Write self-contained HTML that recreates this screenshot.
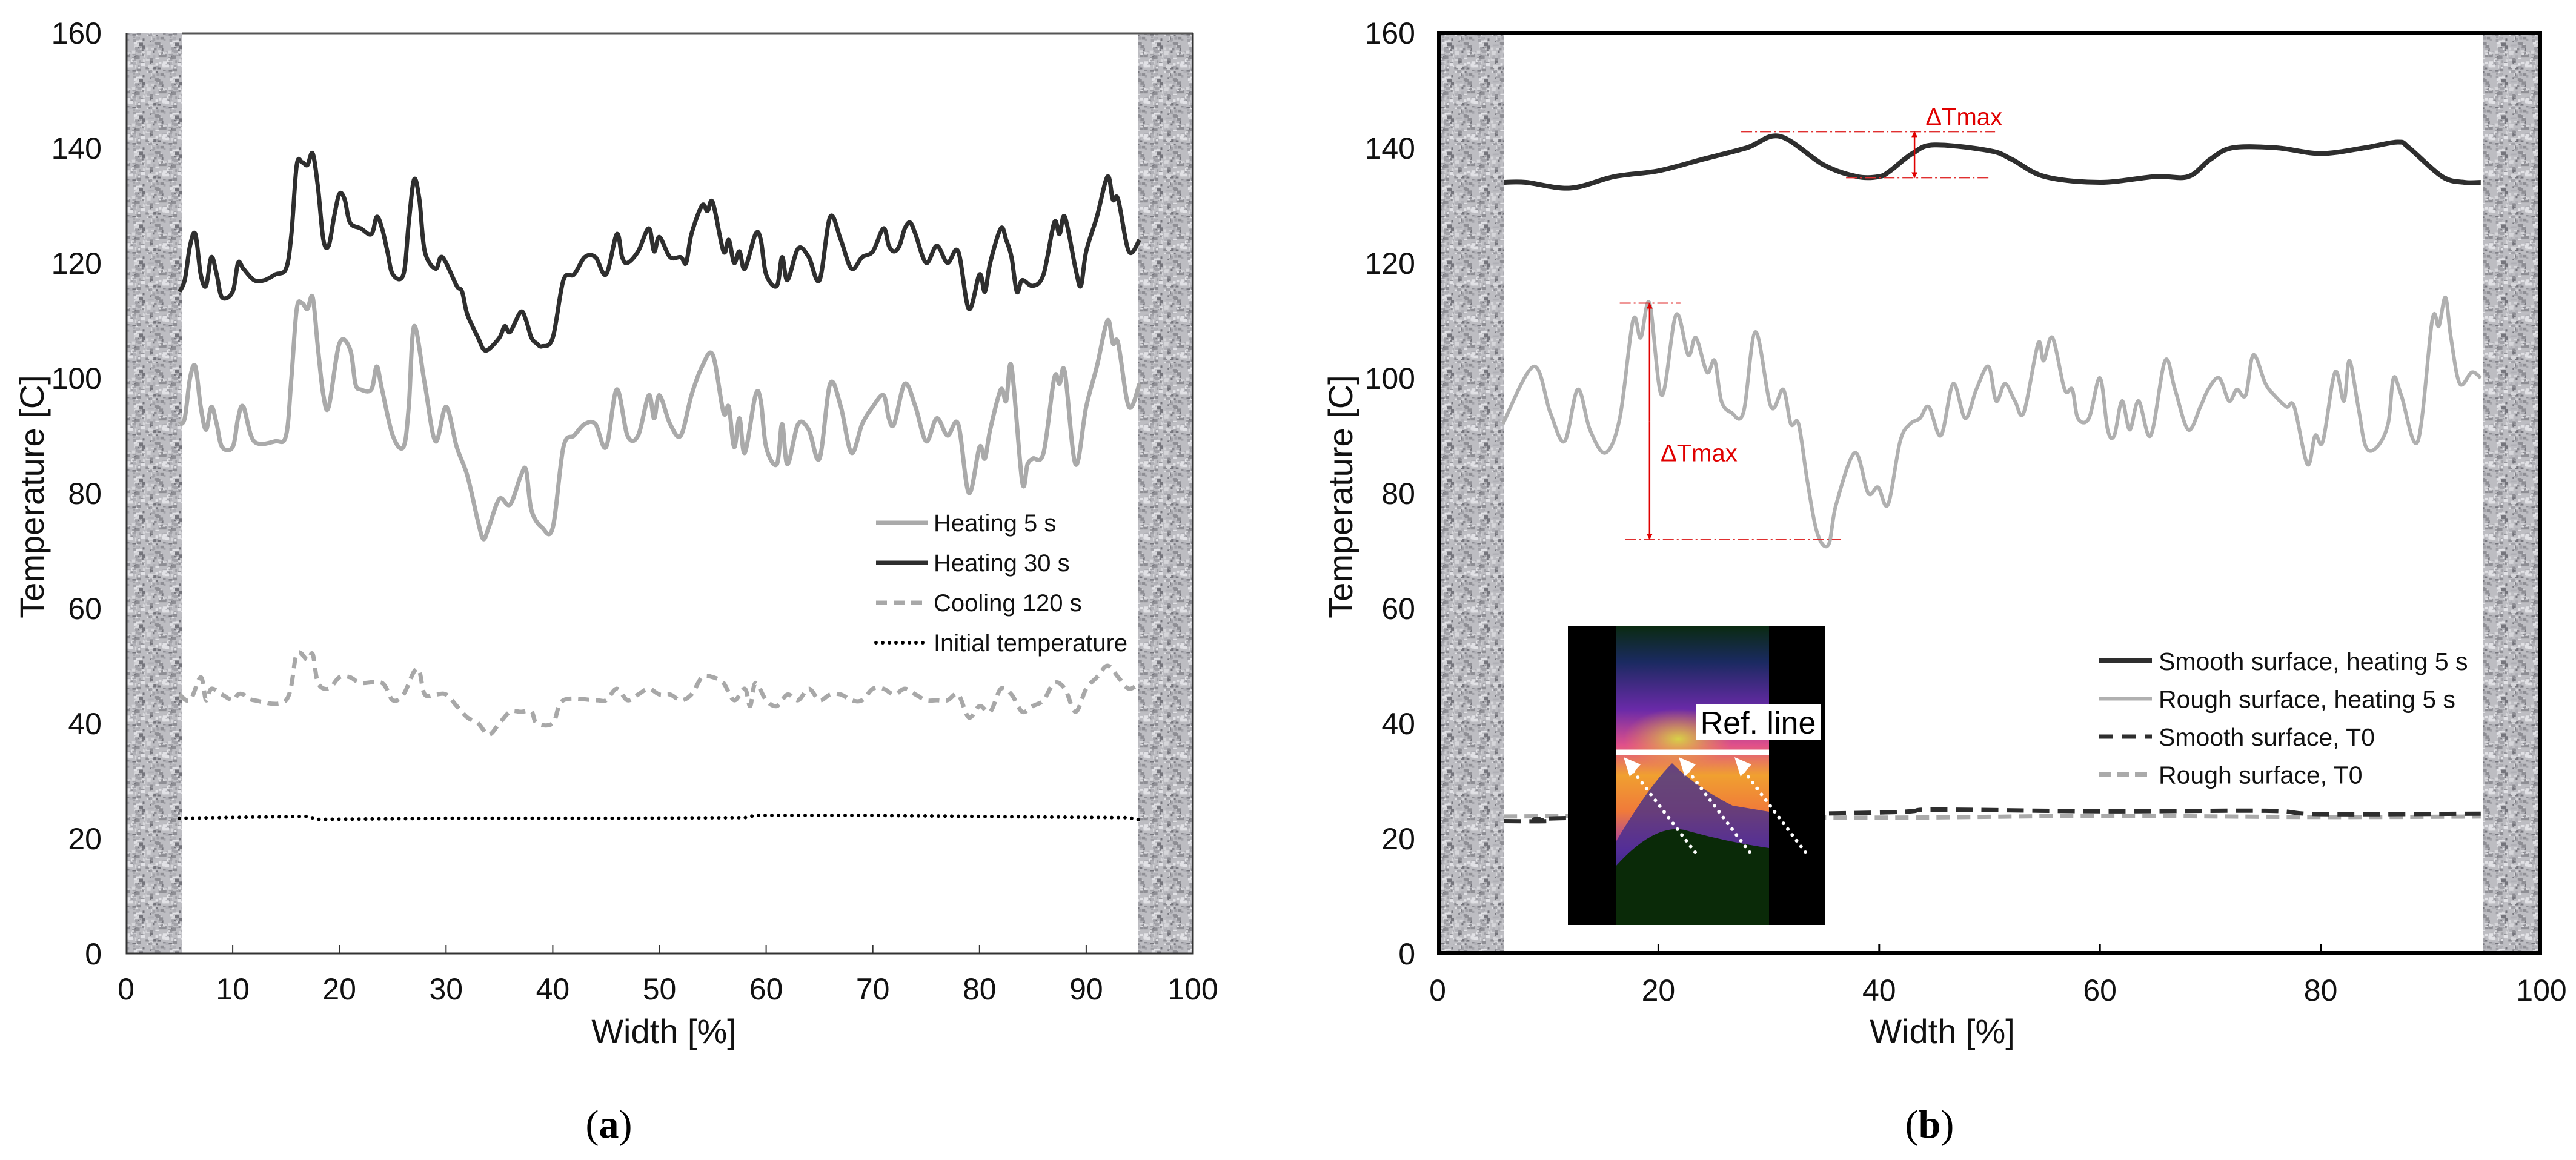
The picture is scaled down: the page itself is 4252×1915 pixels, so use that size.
<!DOCTYPE html>
<html><head><meta charset="utf-8">
<style>
html,body{margin:0;padding:0;background:#fff;}
svg{display:block;font-family:"Liberation Sans",sans-serif;}
</style></head>
<body>
<svg id="fig" width="4252" height="1915" viewBox="0 0 4252 1915" xmlns="http://www.w3.org/2000/svg">
<defs>
<pattern id="granite" patternUnits="userSpaceOnUse" width="60" height="60"><rect width="60" height="60" fill="#bdbdc2"/><g id="granG"></g></pattern>
<linearGradient id="thermV" x1="0" y1="0" x2="0" y2="1">
<stop offset="0" stop-color="#0a2a10"/>
<stop offset="0.12" stop-color="#1a2a60"/>
<stop offset="0.28" stop-color="#6a2aa8"/>
<stop offset="0.4" stop-color="#e0508a"/>
<stop offset="0.5" stop-color="#f0a030"/>
<stop offset="0.62" stop-color="#f07a3a"/>
<stop offset="0.75" stop-color="#a03ab0"/>
<stop offset="0.85" stop-color="#1a2a60"/>
<stop offset="1" stop-color="#0a2a08"/>
</linearGradient>
<radialGradient id="hot" cx="0.5" cy="0.5" r="0.5">
<stop offset="0" stop-color="#d8e040" stop-opacity="0.9"/>
<stop offset="1" stop-color="#f0a030" stop-opacity="0"/>
</radialGradient>
<marker id="arrR" markerWidth="10" markerHeight="10" refX="9" refY="5" orient="auto" markerUnits="userSpaceOnUse" viewBox="0 0 10 10"><path d="M0,0 L10,5 L0,10 z" fill="#e00000"/></marker>
</defs>
<g id="chartA"></g>
<g id="chartB"></g>
</svg>
<script>
// ---------- Chart (a) data ----------
const a_h30_x = [5,5.5,6,6.5,7,7.5,8,8.5,9,10,10.5,11,12,13,14,15,15.5,16,16.5,17,17.5,18,18.5,19,19.5,20,20.5,21,22,23,23.5,24,24.5,25,26,26.5,27,27.5,28,29,29.5,30,31,31.5,32,33,33.5,34,35,35.5,36,37,37.5,38,38.5,39,40,41,42,43,44,45,46,46.5,47,48,49,49.5,50,51,52,52.5,53,54,54.5,55,56,56.5,57,57.5,58,59,59.5,60,61,61.5,62,63,64,65,66,67,68,69,70,71,71.5,72,72.5,73,73.5,74,75,76,77,78,79,80,80.5,81,82,82.5,83,83.5,84,85,86,87,87.5,88,89,89.5,90,91,92,92.5,93,94,95];
const a_h30_y = [115,117,123,125,118,116,121,118,114,115,120,119,117,117,118,119,125,137,137.5,137,139,133,124,123,128,132,131,127,126,125,128,126,122,118,118,127,134.5,131,122,119,121,120,116,115,111,107,105,105,107,109,108,111.5,110,107,106,105.5,107,117,118,121,121,118,125,121,120,122,126,122,124.5,121,121,120,125,130,129,130.5,122,124,120,122,119,125,124,118,116,121,117,122.5,121,117,128,124,119,121,122,126,123,122,123,126,127,125,120,123,120,122,112,118,115,120,126,124,121,115,117,116,118,127,125,128,119,116,122,128,135,131,131,122,124];
const a_h5_x = [5,5.5,6,6.5,7,7.5,8,8.5,9,10,10.5,11,12,14,15,15.5,16,16.5,17,17.5,18,18.5,19,20,21,21.5,22,23,23.5,24,25,26,26.5,27,28,29,30,31,32,33,33.5,34,35,36,37,37.5,38,39,40,41,42,43,44,45,46,47,48,49,49.5,50,51,52,53,54,55,56,56.5,57,57.5,58,59,59.5,60,61,61.5,62,63,64,65,66,67,68,69,70,71,71.5,72,73,74,75,76,77,78,79,80,80.5,81,82,82.5,83,84,84.5,85,86,87,87.5,88,89,90,91,92,92.5,93,94,95];
const a_h5_y = [92,93,100,102,95,91,95,92,88,88,93,95,89,89,90,100,112,113,112,114,105,97,95,106,105,99,98,98,102,98,90,88,95,109,99,89,95,88,83,75,72,74,79,78,83,84,77,74,74,88,90,92,92,88,98,90,90,97,93,97,92,90,97,102,104,94,95,88,93,87,97,96,88,85,92,85,92,91,86,99,95,87,92,95,97,93,92,99,95,89,93,90,92,80,88,86,91,98,96,102,82,85,86,87,100,99,101,85,95,102,110,106,106,95,99];
const a_c120_x = [5,6,7,7.5,8,9,10,10.5,11,12,15,16,17,17.5,18,19,20,21,22,24,25,26,27,27.5,28,29,30,31,32,33,34,35,36,37,38,38.5,40,41,44,45,46,47,48,49,50,51,52,53,54,55,56,57,58,58.5,59,60,61,62,63,64,65,66,67,68,69,70,71,72,73,74,75,76,77,78,79,80,81,82,83,84,85,86,87,88,89,90,91,92,93,94,95];
const a_c120_y = [45,44,48,44,46,45,44,45,45,44,44,52,51,52,47,46,48,48,47,47,44,45,49,49,45,45,45,43,41,40,38,40,42,42,42,40,40,44,44,44,46,44,45,46,45,45,44,45,48,48,47,44,46,43,47,44,43,45,44,46,44,45,45,44,44,46,46,45,46,45,44,44,44,45,41,43,42,46,45,42,43,44,47,46,42,46,48,50,48,46,47];
const a_init_x = [5,12,17,18,30,45,58,59,70,80,94,95];
const a_init_y = [23.5,23.7,23.8,23.3,23.5,23.5,23.6,24,24,23.8,23.6,23.2];
// ---------- Chart (b) data ----------
const b_smooth_x = [6,8,12,16,20,24,28,31,35,38,40,41,43,45,50,52,55,60,65,68,70,72,76,80,84,87,88,91,93,94.5];
const b_smooth_y = [134,134,133,135,136,138,140,142,137,135,135,136,139,140.5,139.5,138,135,134,135,135,138,140,140,139,140,141,140,135,134,134];
const b_rough_x = [5.9,8.7,10.2,11.5,12.7,13.8,15.2,16.5,17.7,18.4,19.2,20.3,21.6,22.7,23.4,24.4,25.1,25.7,26.6,27.7,28.8,30.2,31.3,32,32.7,33.5,34.4,35.4,36.1,37.8,39,39.9,40.8,41.9,42.8,43.7,44.5,45.6,46.7,47.8,48.8,49.9,50.6,51.4,52.3,53.1,54.4,54.9,55.7,56.8,57.5,58,59,60,60.7,61.3,62,62.7,63.5,64.6,65.9,66.8,68,69.1,69.8,70.8,71.7,72.4,73.2,73.9,75,75.8,76.9,77.6,78.8,79.5,80.2,81.3,82.1,82.6,83.4,84.1,85.1,86.1,86.6,87.3,88.8,90.1,90.7,91.3,91.8,92.6,93.7,94.5];
const b_rough_y = [92,102,94,89,98,91,87,93,110,107,113,97,111,104,107,101,103,96,94,94,108,95,98,92,92,82,73,71,78,87,80,81,78,89,92,93,95,90,99,93,98,102,96,99,96,94,106,103,107,98,98,93,93,100,91,90,96,91,96,90,103,98,91,95,98,100,96,98,97,104,99,97,95,95,85,90,89,101,96,103,95,88,88,92,100,97,89,110,109,114,107,99,101,100];
const b_st0_x = [6,10,11,40,45,60,75,80,94.5];
const b_st0_y = [23,23,23.5,24.5,25,24.7,24.8,24.2,24.3];
const b_rt0_x = [6,20,40,60,80,94.5];
const b_rt0_y = [23.8,23.9,23.6,23.9,23.7,23.8];
const yTicks = [0,20,40,60,80,100,120,140,160];
const a_xTicks = [0,10,20,30,40,50,60,70,80,90,100];
const b_xTicks = [0,20,40,60,80,100];

const NS = "http://www.w3.org/2000/svg";
function mk(parent, tag, attrs, text){
  const e = document.createElementNS(NS, tag);
  for (const k in attrs) e.setAttribute(k, attrs[k]);
  if (text !== undefined) e.textContent = text;
  parent.appendChild(e);
  return e;
}
// granite texture tile
(function(){
  const g = document.getElementById('granG');
  let s = 12345;
  function rnd(){ s = (s*1103515245 + 12345) % 2147483648; return s/2147483648; }
  const shades = ['#8e8e94','#a2a2a8','#d6d6da','#e2e2e6','#75757c','#b0b0b6'];
  for (let i=0;i<140;i++){
    const w = 2+rnd()*5, h = 2+rnd()*4;
    mk(g,'rect',{x:(rnd()*60).toFixed(1),y:(rnd()*60).toFixed(1),width:w.toFixed(1),height:h.toFixed(1),fill:shades[Math.floor(rnd()*shades.length)]});
  }
})();
const Y0 = 1574, Y1 = 54;
function yScale(v){ return Y0 - (v/160)*(Y0-Y1); }
function xScaleA(v){ return 208 + v/100*(1969-208); }
function xScaleB(v){ return 2373 + v/100*(4195-2373); }
function pts(xs, ys, sx){ return xs.map((x,i)=> sx(x).toFixed(1)+","+yScale(ys[i]).toFixed(1)).join(" "); }
function smoothPath(xs, ys, sx){
  const P = xs.map((x,i)=>[sx(x), yScale(ys[i])]);
  let d = "M"+P[0][0].toFixed(1)+","+P[0][1].toFixed(1);
  for (let i=0;i<P.length-1;i++){
    const p0 = P[Math.max(0,i-1)], p1 = P[i], p2 = P[i+1], p3 = P[Math.min(P.length-1,i+2)];
    const c1 = [p1[0]+(p2[0]-p0[0])/6, p1[1]+(p2[1]-p0[1])/6];
    const c2 = [p2[0]-(p3[0]-p1[0])/6, p2[1]-(p3[1]-p1[1])/6];
    d += " C"+c1[0].toFixed(1)+","+c1[1].toFixed(1)+" "+c2[0].toFixed(1)+","+c2[1].toFixed(1)+" "+p2[0].toFixed(1)+","+p2[1].toFixed(1);
  }
  return d;
}

// ================= Chart A =================
const A = document.getElementById('chartA');
let r;
r = mk(A,'rect',{x:208,y:54,width:92,height:1520,fill:'url(#granite)'});


r = mk(A,'rect',{x:1878,y:54,width:91,height:1520,fill:'url(#granite)'});


r = mk(A,'line',{x1:300,y1:55,x2:1969,y2:55,stroke:'#555',"stroke-width":3});


r = mk(A,'polyline',{points:"209,54 209,1574 1969,1574 1969,54",fill:'none',stroke:'#333',"stroke-width":3});


a_xTicks.forEach(t=>{
  const x = xScaleA(t);
  if (t>0 && t<100){
    const tk = mk(A,'line',{x1:x,y1:1574,x2:x,y2:1560,stroke:'#333',"stroke-width":2});
    
    
  }
  const tl = mk(A,'text',{x:x,y:1650,"font-size":50,"text-anchor":"middle",fill:'#111'},String(t));
  
  
});
yTicks.forEach(t=>{
  const tl = mk(A,'text',{x:168,y:yScale(t)+18,"font-size":50,"text-anchor":"end",fill:'#111'},String(t));
  
  
});
r = mk(A,'text',{x:1096,y:1722,"font-size":56,"text-anchor":"middle",fill:'#111'},'Width [%]');


r = mk(A,'text',{x:0,y:0,"font-size":56,"text-anchor":"middle",fill:'#111',transform:'translate(72,820) rotate(-90)'},'Temperature [C]');


r = mk(A,'text',{x:1005,y:1878,"font-size":66,"text-anchor":"middle",fill:'#000',"font-family":"Liberation Serif, serif"});


r.innerHTML = '(<tspan font-weight="bold">a</tspan>)';

r = mk(A,'polyline',{points:pts(a_init_x,a_init_y,xScaleA),fill:'none',stroke:'#000',"stroke-width":6,"stroke-dasharray":"0 11","stroke-linecap":"round"});


r = mk(A,'path',{d:smoothPath(a_c120_x,a_c120_y,xScaleA),fill:'none',stroke:'#a8a8a8',"stroke-width":7,"stroke-dasharray":"18 11","stroke-linejoin":"round"});


r = mk(A,'path',{d:smoothPath(a_h5_x,a_h5_y,xScaleA),fill:'none',stroke:'#aaaaaa',"stroke-width":7,"stroke-linejoin":"round"});


r = mk(A,'path',{d:smoothPath(a_h30_x,a_h30_y,xScaleA),fill:'none',stroke:'#2e2e2e',"stroke-width":7,"stroke-linejoin":"round"});



const legA = mk(A,'g',{});


const legAItems = [['Heating 5 s','#aaaaaa',null,7],['Heating 30 s','#2e2e2e',null,7],['Cooling 120 s','#a8a8a8','18 11',7],['Initial temperature','#000','0 11',6]];
legAItems.forEach((it,i)=>{
  const y = 863 + i*66;
  const ln = mk(legA,'line',{x1:1446,y1:y,x2:1532,y2:y,stroke:it[1],"stroke-width":it[3],"stroke-linecap":it[2]==='0 11'?'round':'butt'});
  if (it[2]) ln.setAttribute('stroke-dasharray',it[2]);
  
  
  const tx = mk(legA,'text',{x:1541,y:y+14,"font-size":40,fill:'#111'},it[0]);
  
  
});

// ================= Chart B =================
const B = document.getElementById('chartB');
r = mk(B,'rect',{x:2373,y:54,width:109,height:1520,fill:'url(#granite)'});


r = mk(B,'rect',{x:4098,y:54,width:97,height:1520,fill:'url(#granite)'});


r = mk(B,'rect',{x:2375,y:55,width:1818,height:1518,fill:'none',stroke:'#000',"stroke-width":6});


b_xTicks.forEach(t=>{
  const x = xScaleB(t);
  if (t>0 && t<100){
    const tk = mk(B,'line',{x1:x,y1:1574,x2:x,y2:1558,stroke:'#000',"stroke-width":3});
    
    
  }
  const tl = mk(B,'text',{x:x,y:1652,"font-size":50,"text-anchor":"middle",fill:'#111'},String(t));
  
  
});
yTicks.forEach(t=>{
  const tl = mk(B,'text',{x:2336,y:yScale(t)+18,"font-size":50,"text-anchor":"end",fill:'#111'},String(t));
  
  
});
r = mk(B,'text',{x:3206,y:1722,"font-size":56,"text-anchor":"middle",fill:'#111'},'Width [%]');


r = mk(B,'text',{x:0,y:0,"font-size":56,"text-anchor":"middle",fill:'#111',transform:'translate(2232,820) rotate(-90)'},'Temperature [C]');


r = mk(B,'text',{x:3185,y:1878,"font-size":66,"text-anchor":"middle",fill:'#000',"font-family":"Liberation Serif, serif"});


r.innerHTML = '(<tspan font-weight="bold">b</tspan>)';

r = mk(B,'path',{d:smoothPath(b_rt0_x,b_rt0_y,xScaleB),fill:'none',stroke:'#aaaaaa',"stroke-width":7,"stroke-dasharray":"22 12"});


r = mk(B,'path',{d:smoothPath(b_st0_x,b_st0_y,xScaleB),fill:'none',stroke:'#2e2e2e',"stroke-width":7,"stroke-dasharray":"28 14"});


r = mk(B,'path',{d:smoothPath(b_rough_x,b_rough_y,xScaleB),fill:'none',stroke:'#b0b0b0',"stroke-width":6,"stroke-linejoin":"round"});


r = mk(B,'path',{d:smoothPath(b_smooth_x,b_smooth_y,xScaleB),fill:'none',stroke:'#2e2e2e',"stroke-width":8,"stroke-linejoin":"round"});



// annotations
const ann = mk(B,'g',{});


function hline(x1,x2,v){
  const l = mk(ann,'line',{x1:xScaleB(x1),y1:yScale(v),x2:xScaleB(x2),y2:yScale(v),stroke:'#e03030',"stroke-width":2,"stroke-dasharray":"18 5 3 5"});
  
  
}
hline(27.5,50.5,142.8); hline(37,50,134.8); hline(16.5,22,113); hline(17,36.5,72);
function varrow(x,v1,v2){
  const l = mk(ann,'line',{x1:xScaleB(x),y1:yScale((v1+v2)/2),x2:xScaleB(x),y2:yScale(v2),stroke:'#e00000',"stroke-width":2.5,"marker-end":"url(#arrR)"});
  
  
  const l2 = mk(ann,'line',{x1:xScaleB(x),y1:yScale((v1+v2)/2),x2:xScaleB(x),y2:yScale(v1),stroke:'#e00000',"stroke-width":2.5,"marker-end":"url(#arrR)"});
  
  
}
varrow(43.2,142.8,134.8); varrow(19.2,113,72);
r = mk(ann,'text',{x:xScaleB(44.2),y:yScale(145.4)+14,"font-size":40,fill:'#e00000'},'ΔTmax');


r = mk(ann,'text',{x:xScaleB(20.2),y:yScale(87)+14,"font-size":40,fill:'#e00000'},'ΔTmax');



// inset thermal image
const ins = mk(B,'g',{});


mk(ins,'rect',{x:2588,y:1033,width:425,height:494,fill:'#000'});
mk(ins,'rect',{x:2667,y:1033,width:253,height:494,fill:'url(#thermV)'});
mk(ins,'ellipse',{cx:2770,cy:1220,rx:90,ry:50,fill:'url(#hot)'});
mk(ins,'path',{d:"M2667,1460 L2667,1390 Q2720,1300 2760,1260 Q2800,1300 2860,1330 L2920,1340 L2920,1460 Z",fill:'#3a2a90',opacity:0.75});
mk(ins,'path',{d:"M2667,1527 L2667,1430 Q2730,1360 2780,1370 Q2850,1390 2920,1400 L2920,1527 Z",fill:'#0a2a08'});
r = mk(ins,'line',{x1:2667,y1:1242,x2:2920,y2:1242,stroke:'#fff',"stroke-width":9});


r = mk(ins,'rect',{x:2799,y:1162,width:206,height:60,fill:'#fff'});


r = mk(ins,'text',{x:2902,y:1211,"font-size":52,"text-anchor":"middle",fill:'#000'},'Ref. line');


[[2798,2680],[2888,2771],[2980,2863]].forEach(p=>{
  const l = mk(ins,'line',{x1:p[0],y1:1407,x2:p[1]+14,y2:1271,stroke:'#fff',"stroke-width":6,"stroke-dasharray":"0 12","stroke-linecap":"round"});
  
  
  const h = mk(ins,'polygon',{points:`${p[1]},1250 ${p[1]+28},1262 ${p[1]+10},1282`,fill:'#fff'});
  
  
});

// legend b
const legB = mk(B,'g',{});


const legBItems = [['Smooth surface, heating 5 s','#2e2e2e',null,8],['Rough surface, heating 5 s','#b0b0b0',null,6],['Smooth surface, T0','#2e2e2e','24 14',7],['Rough surface, T0','#aaaaaa','20 10',7]];
legBItems.forEach((it,i)=>{
  const y = 1091 + i*62.5;
  const ln = mk(legB,'line',{x1:3464,y1:y,x2:3552,y2:y,stroke:it[1],"stroke-width":it[3]});
  if (it[2]) ln.setAttribute('stroke-dasharray',it[2]);
  
  
  const tx = mk(legB,'text',{x:3563,y:y+15,"font-size":41,fill:'#111'},it[0]);
  
  
});
</script>
</body></html>
